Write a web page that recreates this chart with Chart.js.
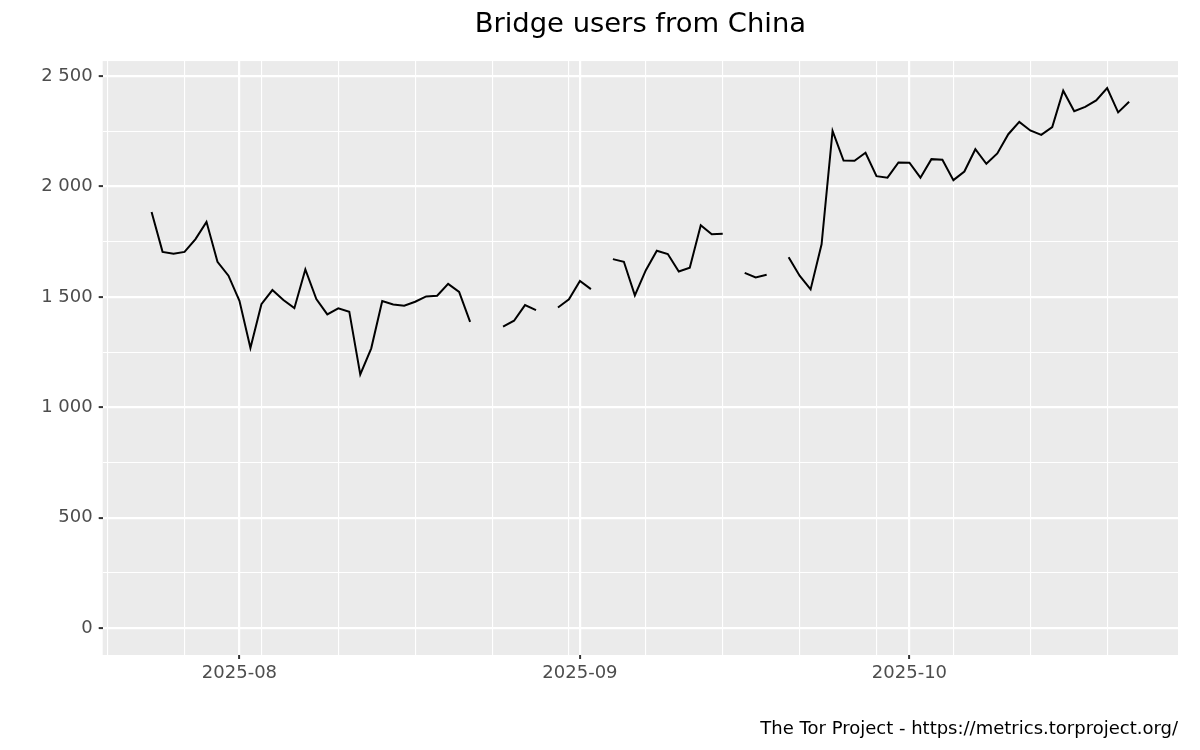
<!DOCTYPE html>
<html>
<head>
<meta charset="utf-8">
<script src="https://cdn.jsdelivr.net/npm/chart.js@4"></script>
<style>
  html, body { margin: 0; padding: 0; background: #fff; }
  #wrap { width: 1200px; height: 750px; }
</style>
</head>
<body>
<div id="wrap"><canvas id="chart" width="1200" height="750"></canvas></div>
<script>
// daily dates
const dates = [
    '2025-07-24','2025-07-25','2025-07-26','2025-07-27','2025-07-28','2025-07-29','2025-07-30','2025-07-31',
    '2025-08-01','2025-08-02','2025-08-03','2025-08-04','2025-08-05','2025-08-06','2025-08-07','2025-08-08',
    '2025-08-09','2025-08-10','2025-08-11','2025-08-12','2025-08-13','2025-08-14','2025-08-15','2025-08-16',
    '2025-08-17','2025-08-18','2025-08-19','2025-08-20','2025-08-21','2025-08-22','2025-08-23','2025-08-24',
    '2025-08-25','2025-08-26','2025-08-27','2025-08-28','2025-08-29','2025-08-30','2025-08-31',
    '2025-09-01','2025-09-02','2025-09-03','2025-09-04','2025-09-05','2025-09-06','2025-09-07','2025-09-08',
    '2025-09-09','2025-09-10','2025-09-11','2025-09-12','2025-09-13','2025-09-14','2025-09-15','2025-09-16',
    '2025-09-17','2025-09-18','2025-09-19','2025-09-20','2025-09-21','2025-09-22','2025-09-23','2025-09-24',
    '2025-09-25','2025-09-26','2025-09-27','2025-09-28','2025-09-29','2025-09-30',
    '2025-10-01','2025-10-02','2025-10-03','2025-10-04','2025-10-05','2025-10-06','2025-10-07','2025-10-08',
    '2025-10-09','2025-10-10','2025-10-11','2025-10-12','2025-10-13','2025-10-14','2025-10-15','2025-10-16',
    '2025-10-17','2025-10-18','2025-10-19','2025-10-20','2025-10-21'
]

// bridge users, null = no data
const users = [
    1885, 1704, 1695, 1704, 1762, 1840, 1659, 1596,
    1482, 1269, 1467, 1531, 1486, 1449, 1624, 1490,
    1421, 1448, 1433, 1149, 1267, 1481, 1466, 1460,
    1478, 1502, 1505, 1559, 1523, 1387, null, null,
    1365, 1392, 1463, 1440, null, 1452, 1489,
    1572, 1535, null, 1671, 1659, 1507, 1621, 1709,
    1694, 1615, 1632, 1825, 1784, 1786, null, 1609,
    1588, 1600, null, 1680, 1596, 1534, 1738, 2252,
    2118, 2117, 2153, 2047, 2040, 2109,
    2108, 2040, 2124, 2121, 2029, 2068, 2169, 2103,
    2150, 2237, 2293, 2254, 2234, 2269, 2434, 2341,
    2361, 2390, 2446, 2336, 2384
]

const monthTicks = ['2025-08-01', '2025-09-01', '2025-10-01']
const monthLabels = ['2025-08', '2025-09', '2025-10']
const weekTicks = [
    '2025-07-20','2025-07-27','2025-08-03','2025-08-10','2025-08-17','2025-08-24','2025-08-31',
    '2025-09-07','2025-09-14','2025-09-21','2025-09-28','2025-10-05','2025-10-12','2025-10-19'
]
const yMajor = [0, 500, 1000, 1500, 2000, 2500]
const yMinor = [250, 750, 1250, 1750, 2250]

function dayNum(s) {
    return Date.parse(s + 'T00:00:00Z') / 86400000
}

function fmtNum(v) {
    return String(v).replace(/\B(?=(\d{3})+(?!\d))/g, ' ')
}

const points = dates.map((d, i) => ({x: dayNum(d), y: users[i]}))

// ggplot style 5% expansion, y expanded down to 0
const xFirst = dayNum(dates[0]), xLast = dayNum(dates[dates.length - 1])
const xPad = (xLast - xFirst) * 0.05
const yTop = Math.max(...users.filter(v => v !== null))
const yPad = yTop * 0.05

const xMajorVals = monthTicks.map(dayNum)
const xLabelMap = {}
xMajorVals.forEach((v, i) => xLabelMap[v] = monthLabels[i])

const panelBg = {
    id: 'panelBg',
    beforeDraw(chart) {
        const a = chart.chartArea
        const ctx = chart.ctx
        ctx.save()
        ctx.fillStyle = '#EBEBEB'
        ctx.fillRect(a.left, a.top, a.right - a.left, a.bottom - a.top)
        ctx.restore()
    }
}

const axisFont = {family: 'DejaVu Sans', size: 18}

const config = {
    type: 'line',
    data: {
        datasets: [{
            label: 'Bridge users',
            data: points,
            borderColor: '#000000',
            borderWidth: 2,
            pointRadius: 0,
            tension: 0,
            spanGaps: false
        }]
    },
    options: {
        responsive: false,
        animation: false,
        layout: {padding: {left: 0, right: 22, top: 0, bottom: 0}},
        plugins: {
            legend: {display: false},
            tooltip: {enabled: false},
            title: {
                display: true,
                fullSize: false,
                text: 'Bridge users from China',
                color: '#000000',
                font: {family: 'DejaVu Sans', size: 27.4, weight: 'normal', lineHeight: 1.2},
                padding: {top: 8, bottom: 20.2}
            },
            subtitle: {
                display: true,
                position: 'bottom',
                align: 'end',
                text: 'The Tor Project - https://metrics.torproject.org/',
                color: '#000000',
                font: {family: 'DejaVu Sans', size: 18, lineHeight: 1.2},
                padding: {top: 0, bottom: 10}
            }
        },
        scales: {
            x: {
                type: 'linear',
                min: xFirst - xPad,
                max: xLast + xPad,
                afterBuildTicks: s => {
                    const vals = weekTicks.map(dayNum).concat(xMajorVals).sort((a, b) => a - b)
                    s.ticks = vals.map(v => ({value: v}))
                },
                afterFit: s => { s.height = 63.4 },
                ticks: {
                    autoSkip: false,
                    maxRotation: 0,
                    padding: 4,
                    color: '#4D4D4D',
                    font: axisFont,
                    callback: v => xLabelMap[v] || ''
                },
                grid: {
                    color: '#FFFFFF',
                    lineWidth: c => (c.tick && xLabelMap[c.tick.value]) ? 2.2 : 1.1,
                    tickColor: c => (c.tick && xLabelMap[c.tick.value]) ? '#333333' : 'rgba(0,0,0,0)',
                    tickWidth: 2,
                    tickLength: 4
                },
                border: {display: false}
            },
            y: {
                type: 'linear',
                min: -yPad,
                max: yTop + yPad,
                afterBuildTicks: s => {
                    s.ticks = yMajor.concat(yMinor).sort((a, b) => a - b).map(v => ({value: v}))
                },
                afterFit: s => { s.width = 102.7 },
                ticks: {
                    padding: 6,
                    color: '#4D4D4D',
                    font: axisFont,
                    callback: v => yMajor.includes(v) ? fmtNum(v) : ''
                },
                grid: {
                    color: '#FFFFFF',
                    lineWidth: c => (c.tick && yMajor.includes(c.tick.value)) ? 2.2 : 1.1,
                    tickColor: c => (c.tick && yMajor.includes(c.tick.value)) ? '#333333' : 'rgba(0,0,0,0)',
                    tickWidth: 2,
                    tickLength: 4
                },
                border: {display: false}
            }
        }
    },
    plugins: [panelBg]
}

let ctx = document.getElementById('chart').getContext('2d')
new Chart(ctx, config)
</script>
</body>
</html>
